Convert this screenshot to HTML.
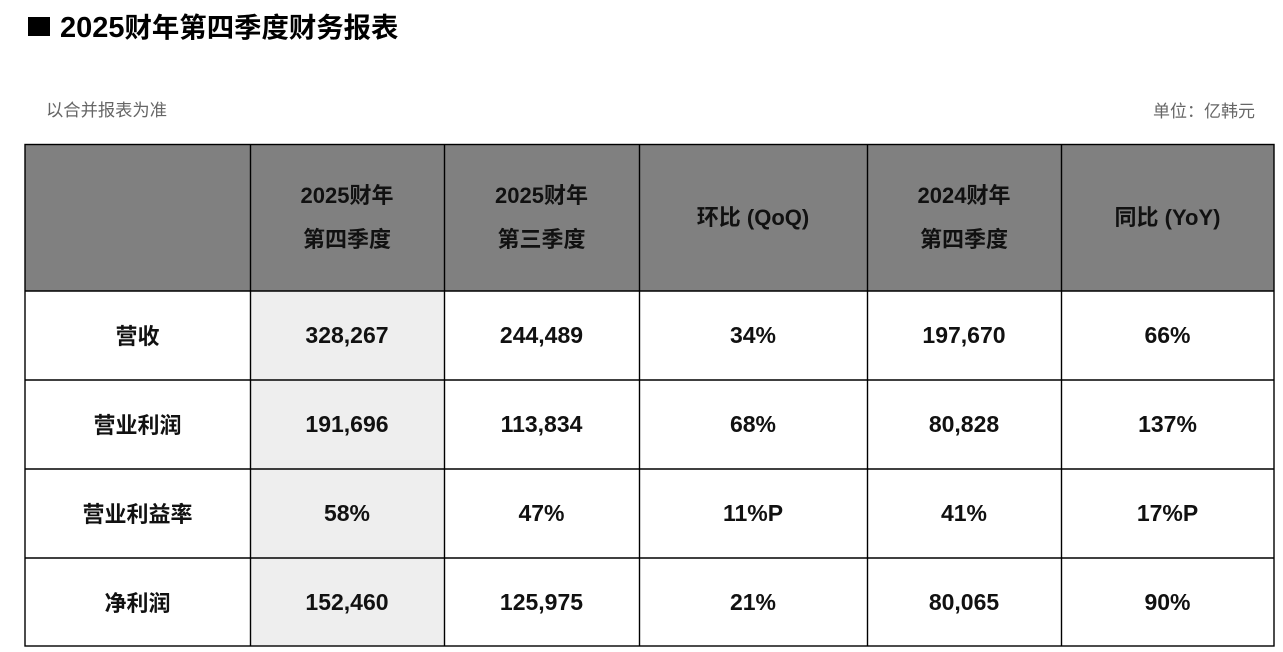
<!DOCTYPE html>
<html>
<head>
<meta charset="utf-8">
<style>
  html,body{margin:0;padding:0;background:#fff;}
  body{width:1283px;height:652px;position:relative;overflow:hidden;
       font-family:"Liberation Sans","Noto Sans CJK SC",sans-serif;color:#111;}
  .abs{position:absolute;}
  .cell{position:absolute;display:flex;align-items:center;justify-content:center;text-align:center;font-weight:bold;}
  .hd{font-size:22px;line-height:44px;}
  .lb{font-size:22px;}
  .num{font-size:23px;}
</style>
</head>
<body>
  <!-- title -->
  <div class="abs" style="left:28px;top:17px;width:22px;height:19px;background:#000;"></div>
  <div class="abs" style="left:60px;top:10px;font-size:29px;font-weight:bold;line-height:36px;white-space:nowrap;color:#000;">2025<span style="font-size:27.4px;">财年第四季度财务报表</span></div>

  <div class="abs" style="left:46px;top:99px;font-size:17.3px;line-height:22px;color:#666;white-space:nowrap;">以合并报表为准</div>
  <div class="abs" style="left:1140px;top:101px;font-size:17px;line-height:22px;color:#666;white-space:nowrap;width:115px;text-align:right;">单位：亿韩元</div>

  <!-- table graphics -->
  <svg class="abs" style="left:0;top:0;" width="1283" height="652">
    <rect x="25" y="144" width="1249" height="147" fill="#808080"/>
    <rect x="250" y="291" width="194" height="355" fill="#eeeeee"/>
    <g stroke="#000" stroke-width="1.4" fill="none">
      <rect x="25" y="144.5" width="1249" height="501.5"/>
      <line x1="25" y1="291" x2="1274" y2="291"/>
      <line x1="25" y1="380" x2="1274" y2="380"/>
      <line x1="25" y1="469" x2="1274" y2="469"/>
      <line x1="25" y1="558" x2="1274" y2="558"/>
      <line x1="250.5" y1="144" x2="250.5" y2="646"/>
      <line x1="444.5" y1="144" x2="444.5" y2="646"/>
      <line x1="639.5" y1="144" x2="639.5" y2="646"/>
      <line x1="867.5" y1="144" x2="867.5" y2="646"/>
      <line x1="1061.5" y1="144" x2="1061.5" y2="646"/>
    </g>
  </svg>

  <!-- header -->
  <div class="cell hd" style="left:250px;top:144px;width:194px;height:147px;">2025财年<br>第四季度</div>
  <div class="cell hd" style="left:444px;top:144px;width:195px;height:147px;">2025财年<br>第三季度</div>
  <div class="cell hd" style="left:639px;top:144px;width:228px;height:147px;">环比 (QoQ)</div>
  <div class="cell hd" style="left:867px;top:144px;width:194px;height:147px;">2024财年<br>第四季度</div>
  <div class="cell hd" style="left:1061px;top:144px;width:213px;height:147px;">同比 (YoY)</div>

  <!-- row 1 -->
  <div class="cell lb" style="left:25px;top:291px;width:225px;height:88px;">营收</div>
  <div class="cell num" style="left:250px;top:291px;width:194px;height:89px;">328,267</div>
  <div class="cell num" style="left:444px;top:291px;width:195px;height:89px;">244,489</div>
  <div class="cell num" style="left:639px;top:291px;width:228px;height:89px;">34%</div>
  <div class="cell num" style="left:867px;top:291px;width:194px;height:89px;">197,670</div>
  <div class="cell num" style="left:1061px;top:291px;width:213px;height:89px;">66%</div>

  <!-- row 2 -->
  <div class="cell lb" style="left:25px;top:380px;width:225px;height:88px;">营业利润</div>
  <div class="cell num" style="left:250px;top:380px;width:194px;height:89px;">191,696</div>
  <div class="cell num" style="left:444px;top:380px;width:195px;height:89px;">113,834</div>
  <div class="cell num" style="left:639px;top:380px;width:228px;height:89px;">68%</div>
  <div class="cell num" style="left:867px;top:380px;width:194px;height:89px;">80,828</div>
  <div class="cell num" style="left:1061px;top:380px;width:213px;height:89px;">137%</div>

  <!-- row 3 -->
  <div class="cell lb" style="left:25px;top:469px;width:225px;height:88px;">营业利益率</div>
  <div class="cell num" style="left:250px;top:469px;width:194px;height:89px;">58%</div>
  <div class="cell num" style="left:444px;top:469px;width:195px;height:89px;">47%</div>
  <div class="cell num" style="left:639px;top:469px;width:228px;height:89px;">11%P</div>
  <div class="cell num" style="left:867px;top:469px;width:194px;height:89px;">41%</div>
  <div class="cell num" style="left:1061px;top:469px;width:213px;height:89px;">17%P</div>

  <!-- row 4 -->
  <div class="cell lb" style="left:25px;top:558px;width:225px;height:87px;">净利润</div>
  <div class="cell num" style="left:250px;top:558px;width:194px;height:88px;">152,460</div>
  <div class="cell num" style="left:444px;top:558px;width:195px;height:88px;">125,975</div>
  <div class="cell num" style="left:639px;top:558px;width:228px;height:88px;">21%</div>
  <div class="cell num" style="left:867px;top:558px;width:194px;height:88px;">80,065</div>
  <div class="cell num" style="left:1061px;top:558px;width:213px;height:88px;">90%</div>
</body>
</html>
